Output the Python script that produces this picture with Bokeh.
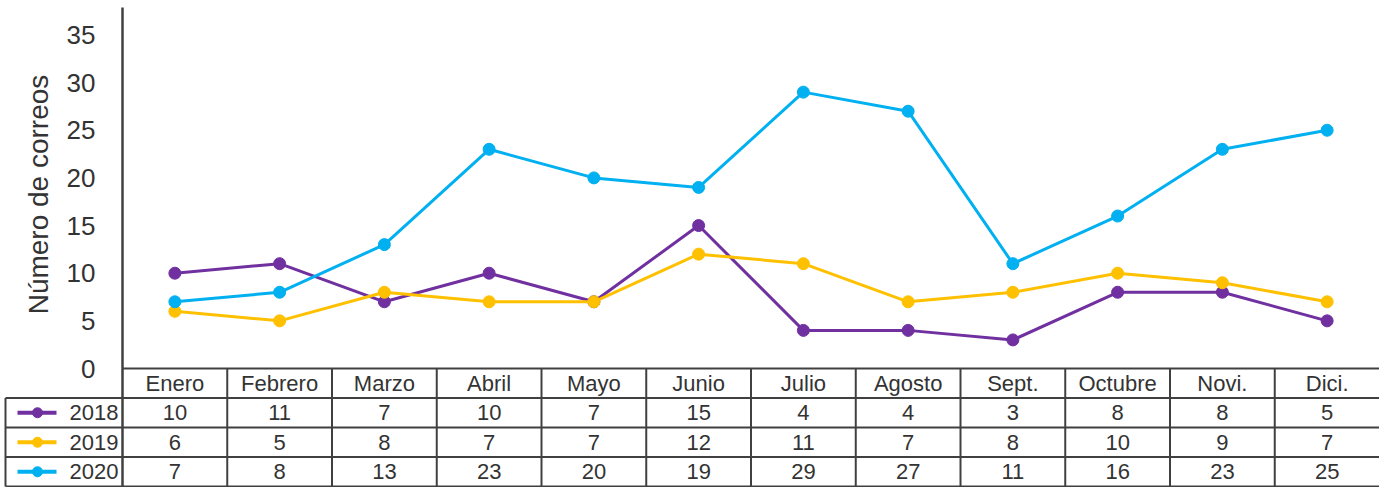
import math
from bokeh.plotting import figure
from bokeh.models import Range1d, FixedTicker
from bokeh.core.properties import value
from bokeh.embed import file_html
from bokeh.resources import INLINE

# ---- data ----
months = ["Enero", "Febrero", "Marzo", "Abril", "Mayo", "Junio", "Julio",
          "Agosto", "Sept.", "Octubre", "Novi.", "Dici."]
years = ["2018", "2019", "2020"]
v2018 = [10, 11, 7, 10, 7, 15, 4, 4, 3, 8, 8, 5]
v2019 = [6, 5, 8, 7, 7, 12, 11, 7, 8, 10, 9, 7]
v2020 = [7, 8, 13, 23, 20, 19, 29, 27, 11, 16, 23, 25]
y_ticks = [0, 5, 10, 15, 20, 25, 30, 35]
y_title = "Número de correos"

series = [v2018, v2019, v2020]
colors = ["#7030A0", "#FFC000", "#00B0F0"]
FONT = "Liberation Sans"
TXT = "#333333"
GRID = "#404040"

n = len(months)
xs = [i + 0.5 for i in range(n)]

# layout constants (pixel geometry converted to data units)
W, H = 1379, 487
AXIS_PX = 122
ZERO_PX = 368
PX_PER_Y = 9.53
px_per_x = (W - AXIS_PX) / n


def dx(px):
    return (px - AXIS_PX) / px_per_x


def dy(py):
    return (ZERO_PX - py) / PX_PER_Y


row_edges = [dy(ZERO_PX + k * 29.5) for k in range(5)]
left_edge = dx(5)

p = figure(width=W, height=H, output_backend="svg", toolbar_location=None,
           title=None,
           x_range=Range1d(dx(0), n), y_range=Range1d(dy(H), dy(0)),
           min_border_left=0, min_border_right=0, min_border_top=0,
           min_border_bottom=0)
p.outline_line_color = None
p.grid.visible = False
p.xaxis.visible = False

yax = p.yaxis[0]
yax.fixed_location = 0
yax.ticker = FixedTicker(ticks=y_ticks)
yax.bounds = (0, 35)
yax.axis_line_color = None
yax.major_tick_out = 0
yax.major_tick_in = 0
yax.minor_tick_out = 0
yax.minor_tick_in = 0
yax.major_label_standoff = 27
yax.major_label_text_font = FONT
yax.major_label_text_font_size = "26px"
yax.major_label_text_color = TXT

# y title
p.text(x=[dx(37.5)], y=[dy(194)], text=[y_title], angle=math.pi / 2,
       text_font=value(FONT), text_font_size="28px", text_color=TXT,
       text_align="center", text_baseline="middle")

# ---- series lines ----
for vals, col in zip(series, colors):
    p.line(xs, vals, line_color=col, line_width=3)
    p.scatter(xs, vals, size=12, fill_color=col, line_color=col)

# ---- table lines ----
x0s, y0s, x1s, y1s = [], [], [], []
x0s.append(0); y0s.append(row_edges[0]); x1s.append(n); y1s.append(row_edges[0])
for ye in row_edges[1:]:
    x0s.append(left_edge); y0s.append(ye); x1s.append(n); y1s.append(ye)
for i in range(1, n):
    x0s.append(i); y0s.append(row_edges[0]); x1s.append(i); y1s.append(row_edges[-1])
x0s.append(left_edge); y0s.append(row_edges[1]); x1s.append(left_edge); y1s.append(row_edges[-1])
p.segment(x0s, y0s, x1s, y1s, line_color=GRID, line_width=2)
# main vertical (axis) line
p.segment([0], [dy(7)], [0], [row_edges[-1]], line_color=GRID, line_width=2.5)

# header text
hy = (row_edges[0] + row_edges[1]) / 2
p.text(x=xs, y=[hy] * n, text=months, text_font=value(FONT), text_font_size="22px",
       text_color=TXT, text_align="center", text_baseline="middle")

# rows
for r, (yr, vals, col) in enumerate(zip(years, series, colors)):
    ry = (row_edges[r + 1] + row_edges[r + 2]) / 2
    p.text(x=xs, y=[ry] * n, text=[str(v) for v in vals], text_font=value(FONT),
           text_font_size="22px", text_color=TXT, text_align="center",
           text_baseline="middle")
    p.segment([dx(17)], [ry], [dx(56)], [ry], line_color=col, line_width=4)
    p.scatter([dx(37)], [ry], size=10, fill_color=col, line_color=col)
    p.text(x=[dx(118)], y=[ry], text=[yr], text_font=value(FONT), text_font_size="22px",
           text_color=TXT, text_align="right", text_baseline="middle")

open("out.html", "w").write(file_html(p, INLINE))
